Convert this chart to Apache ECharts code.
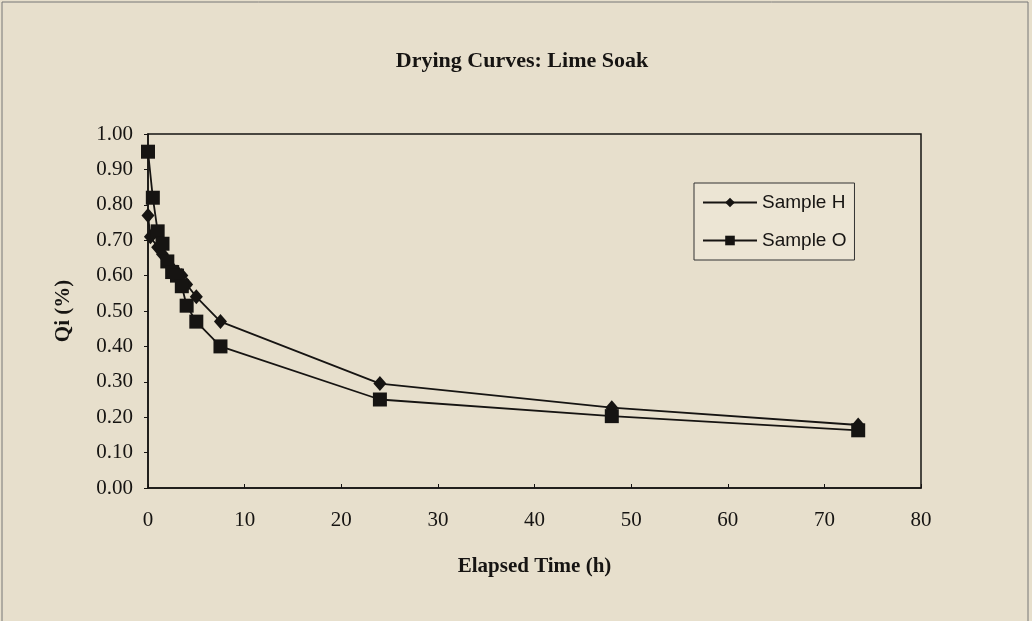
<!DOCTYPE html>
<html>
<head>
<meta charset="utf-8">
<script src="https://cdn.jsdelivr.net/npm/echarts@6/dist/echarts.min.js"></script>
<style>
  html, body { margin: 0; padding: 0; background: #e7dfcc; }
  #chart { width: 1032px; height: 621px; }
</style>
</head>
<body>
<div id="chart"></div>
<script>
// elapsed time (h) and Qi values
const timeH = [0, 0.25, 1, 1.5, 2, 2.5, 3, 3.5, 4, 5, 7.5, 24, 48, 73.5]
const sampleH = [0.77, 0.71, 0.68, 0.66, 0.64, 0.62, 0.61, 0.60, 0.575, 0.54, 0.47, 0.295, 0.227, 0.178]
const timeO = [0, 0.5, 1, 1.5, 2, 2.5, 3, 3.5, 4, 5, 7.5, 24, 48, 73.5]
const sampleO = [0.95, 0.82, 0.725, 0.69, 0.64, 0.61, 0.60, 0.57, 0.515, 0.47, 0.40, 0.25, 0.203, 0.163]

const ink = '#161412'
const serif = '"Liberation Serif", "Times New Roman", serif'
const sans = '"Liberation Sans", Arial, sans-serif'

const chart = echarts.init(document.getElementById('chart'))

const pairs = (xs, ys) => xs.map((x, i) => [x, ys[i]])

const option = {
  backgroundColor: '#e7dfcc',
  animation: false,
  title: {
    text: 'Drying Curves: Lime Soak',
    left: 517,
    top: 45,
    textAlign: 'center',
    textStyle: { fontFamily: serif, fontSize: 22, fontWeight: 'bold', color: ink }
  },
  graphic: [{
    type: 'rect',
    shape: { x: 2, y: 2, width: 1026, height: 640 },
    style: { fill: 'none', stroke: '#777', lineWidth: 1 }
  }],
  legend: {
    orient: 'vertical',
    left: 694,
    top: 183,
    itemWidth: 54,
    itemHeight: 12,
    itemGap: 19,
    padding: [10, 8, 10, 8],
    backgroundColor: '#ece5d4',
    borderColor: '#333',
    borderWidth: 1,
    borderRadius: 0,
    textStyle: { fontFamily: sans, fontSize: 19, color: ink },
    data: ['Sample H', 'Sample O']
  },
  grid: { left: 148, right: 111, top: 134, bottom: 133, show: true, borderColor: ink, borderWidth: 1.5, backgroundColor: 'transparent' },
  xAxis: {
    type: 'value',
    min: 0, max: 80, interval: 10,
    name: 'Elapsed Time (h)',
    nameLocation: 'middle',
    nameGap: 68,
    nameTextStyle: { fontFamily: serif, fontSize: 21, fontWeight: 'bold', color: ink },
    axisLine: { lineStyle: { color: ink, width: 1.5 } },
    axisTick: { inside: true, length: 4, lineStyle: { color: ink } },
    axisLabel: { fontFamily: serif, fontSize: 21, color: ink, margin: 22 },
    splitLine: { show: false }
  },
  yAxis: {
    type: 'value',
    min: 0, max: 1, interval: 0.1,
    name: 'Qi (%)',
    nameLocation: 'middle',
    nameGap: 74,
    nameTextStyle: { fontFamily: serif, fontSize: 21, fontWeight: 'bold', color: ink },
    axisLine: { lineStyle: { color: ink, width: 1.5 } },
    axisTick: { length: 4, lineStyle: { color: ink } },
    axisLabel: { fontFamily: serif, fontSize: 21, color: ink, margin: 15, formatter: v => v.toFixed(2) },
    splitLine: { show: false }
  },
  series: [
    {
      name: 'Sample H',
      type: 'line',
      data: pairs(timeH, sampleH),
      symbol: 'diamond',
      symbolSize: [13, 15],
      showAllSymbol: true,
      itemStyle: { color: ink },
      lineStyle: { color: ink, width: 1.8 }
    },
    {
      name: 'Sample O',
      type: 'line',
      data: pairs(timeO, sampleO),
      symbol: 'rect',
      symbolSize: 14,
      showAllSymbol: true,
      itemStyle: { color: ink },
      lineStyle: { color: ink, width: 1.8 }
    }
  ]
}

chart.setOption(option)
</script>
</body>
</html>
